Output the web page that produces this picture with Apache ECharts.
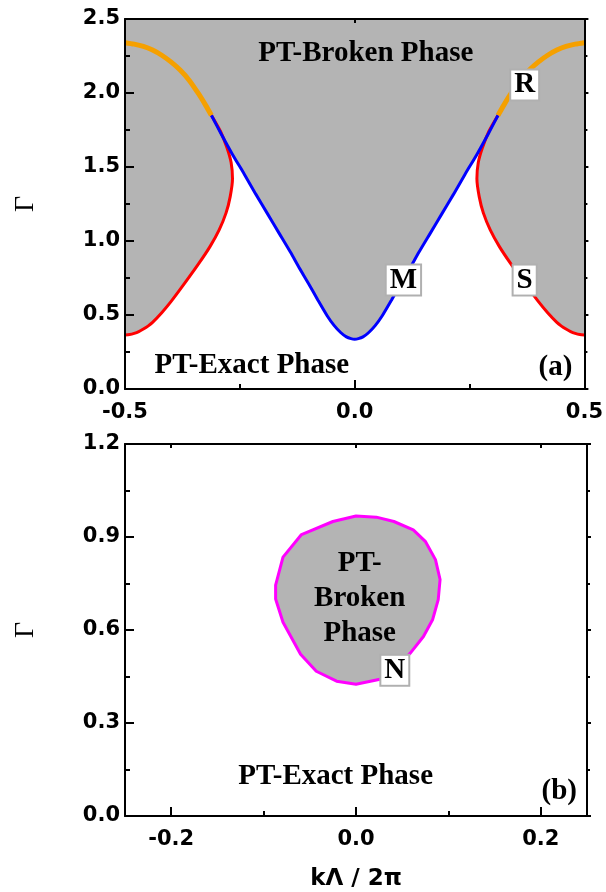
<!DOCTYPE html>
<html><head><meta charset="utf-8">
<script src="https://cdn.jsdelivr.net/npm/echarts@6/dist/echarts.min.js"></script>
<style>html,body{margin:0;padding:0;background:#fff}#c{width:606px;height:892px}</style>
</head><body><div id="c"></div>
<script>
// ---------- Panel (a): phase boundaries, [kΛ/2π, Γ] ----------
const orangeLeft = [[-0.5,2.34],[-0.48,2.33],[-0.46,2.315],[-0.44,2.29],[-0.42,2.255],[-0.40,2.21],[-0.38,2.155],[-0.36,2.085],[-0.34,1.995],[-0.325,1.92],[-0.312,1.85]];
const orangeRight = [[0.312,1.85],[0.325,1.92],[0.34,1.995],[0.36,2.085],[0.38,2.155],[0.40,2.21],[0.42,2.255],[0.44,2.29],[0.46,2.315],[0.48,2.33],[0.5,2.34]];
const redLeft = [[-0.5,0.365],[-0.49,0.368],[-0.48,0.376],[-0.47,0.388],[-0.46,0.405],[-0.45,0.425],[-0.44,0.45],[-0.42,0.515],[-0.40,0.59],[-0.37,0.715],[-0.34,0.845],[-0.315,0.962],[-0.295,1.075],[-0.28,1.19],[-0.271,1.30],[-0.266,1.42],[-0.269,1.53],[-0.278,1.63],[-0.292,1.74],[-0.312,1.85]];
const redRight = [[0.312,1.85],[0.292,1.74],[0.278,1.63],[0.269,1.53],[0.266,1.42],[0.271,1.30],[0.28,1.19],[0.295,1.075],[0.315,0.962],[0.34,0.845],[0.37,0.715],[0.40,0.59],[0.42,0.515],[0.44,0.45],[0.45,0.425],[0.46,0.405],[0.47,0.388],[0.48,0.376],[0.49,0.368],[0.5,0.365]];
const blueCurve = [[-0.312,1.85],[-0.29,1.72],[-0.266,1.585],[-0.24,1.45],[-0.215,1.315],[-0.19,1.185],[-0.165,1.055],[-0.14,0.925],[-0.12,0.815],[-0.10,0.71],[-0.08,0.60],[-0.06,0.495],[-0.045,0.43],[-0.03,0.38],[-0.018,0.352],[-0.008,0.34],[0,0.336],
  [0.008,0.34],[0.018,0.352],[0.03,0.38],[0.045,0.43],[0.06,0.495],[0.08,0.60],[0.10,0.71],[0.12,0.815],[0.14,0.925],[0.165,1.055],[0.19,1.185],[0.215,1.315],[0.24,1.45],[0.266,1.585],[0.29,1.72],[0.312,1.85]];
const exactBaseA = [[0.5,0],[-0.5,0]];

// ---------- Panel (b): closed boundary of the broken island ----------
const magentaLoop = [[0.0,0.968],[0.022,0.964],[0.041,0.95],[0.062,0.923],[0.075,0.886],[0.086,0.827],[0.091,0.763],[0.089,0.698],[0.083,0.634],[0.073,0.579],[0.059,0.526],[0.044,0.483],[0.026,0.441],[0.0,0.425],[-0.021,0.435],[-0.043,0.467],[-0.06,0.522],[-0.079,0.625],[-0.087,0.70],[-0.087,0.745],[-0.079,0.835],[-0.059,0.908],[-0.025,0.95],[0.0,0.968]];

// ---------- ticks ----------
const kTicksB = [-0.2, 0.0, 0.2];
const kMinorTicksB = [-0.1, 0.1];

// ---------- annotations [text, k, Γ] ----------
const phaseLabelsA = [['PT-Broken Phase', 0.024, 2.265], ['PT-Exact Phase', -0.224, 0.158], ['(a)', 0.437, 0.145]];
const pointTagsA = [['R', 0.37, 2.054], ['M', 0.106, 0.736], ['S', 0.37, 0.736]];
const phaseLabelsB = [['PT-\nBroken\nPhase', 0.004, 0.70], ['PT-Exact Phase', -0.022, 0.128], ['(b)', 0.22, 0.08]];
const pointTagsB = [['N', 0.042, 0.47]];

const chart = echarts.init(document.getElementById('c'), null, {renderer: 'canvas'});
const tickFont = {fontFamily: 'DejaVu Sans', fontWeight: 'bold', fontSize: 21, color: '#000'};
const serifFont = 'bold 29px "Liberation Serif"';
const lineBlack = {color: '#000', width: 2};
const fmt = v => Number(v).toFixed(1);

function mainX(grid, min, max, interval, extra) {
  return Object.assign({
    type: 'value', gridIndex: grid, min, max, interval, position: 'bottom', z: 10,
    axisLine: {show: true, onZero: false, lineStyle: lineBlack},
    axisTick: {show: true, inside: true, length: 9, lineStyle: lineBlack},
    minorTick: {show: true, splitNumber: 2, length: 5, lineStyle: lineBlack},
    splitLine: {show: false}, minorSplitLine: {show: false},
    axisLabel: Object.assign({margin: 13, formatter: fmt}, tickFont)
  }, extra || {});
}
function oppX(grid, min, max, interval, extra) {
  return Object.assign({
    type: 'value', gridIndex: grid, min, max, interval, position: 'top', z: 10,
    axisLine: {show: true, onZero: false, lineStyle: lineBlack},
    axisTick: {show: true, inside: true, length: 4, lineStyle: lineBlack},
    minorTick: {show: false}, splitLine: {show: false},
    axisLabel: {show: false}
  }, extra || {});
}
function mainY(grid, min, max, interval) {
  return {
    type: 'value', gridIndex: grid, min, max, interval, position: 'left', z: 10,
    name: 'Γ', nameLocation: 'middle', nameGap: 85, nameRotate: 90,
    nameTextStyle: {fontFamily: 'Liberation Serif', fontSize: 28, color: '#000'},
    axisLine: {show: true, onZero: false, lineStyle: lineBlack},
    axisTick: {show: true, inside: true, length: 9, lineStyle: lineBlack},
    minorTick: {show: true, splitNumber: 2, length: 5, lineStyle: lineBlack},
    splitLine: {show: false}, minorSplitLine: {show: false},
    axisLabel: Object.assign({margin: 5, formatter: fmt}, tickFont)
  };
}
function oppY(grid, min, max, interval) {
  return {
    type: 'value', gridIndex: grid, min, max, interval, position: 'right', z: 10,
    axisLine: {show: true, onZero: false, lineStyle: lineBlack},
    axisTick: {show: true, inside: false, length: 4, lineStyle: lineBlack},
    minorTick: {show: true, splitNumber: 2, length: 3, lineStyle: lineBlack},
    splitLine: {show: false}, axisLabel: {show: false}
  };
}

function polygonSeries(xi, yi, pts, style, z) {
  return {
    type: 'custom', xAxisIndex: xi, yAxisIndex: yi, data: [[0, 0]], silent: true, z: z,
    renderItem: (p, api) => ({type: 'polygon', shape: {points: pts.map(q => api.coord(q)), smooth: style.smooth || 0}, style: style})
  };
}
function curve(xi, yi, data, color, width) {
  return {type: 'line', xAxisIndex: xi, yAxisIndex: yi, data: data, showSymbol: false, symbol: 'none',
    smooth: 0.25, silent: true, z: 3, lineStyle: {color: color, width: width}};
}
function textSeries(xi, yi, items, boxed) {
  return {
    type: 'custom', xAxisIndex: xi, yAxisIndex: yi, silent: true, z: 6,
    data: items.map(t => [t[1], t[2]]),
    renderItem: (p, api) => {
      const t = items[p.dataIndex];
      const c = api.coord([t[1], t[2]]);
      const style = {text: t[0], font: serifFont, fill: '#000', align: 'center', verticalAlign: 'middle', lineHeight: 35};
      if (boxed) Object.assign(style, {backgroundColor: '#fff', borderColor: '#b0b0b0', borderWidth: 2, padding: [2, 3, 0, 3], lineHeight: 27});
      return {type: 'text', x: c[0], y: c[1], style: style};
    }
  };
}

const exactRegionA = [].concat(redLeft, blueCurve, redRight, exactBaseA);

chart.setOption({
  animation: false,
  backgroundColor: '#fff',
  grid: [
    {left: 125, right: 19, top: 19, height: 370, show: true, backgroundColor: '#b4b4b4', borderWidth: 0},
    {left: 125, right: 19, top: 444, height: 373, show: true, backgroundColor: '#fff', borderWidth: 0}
  ],
  xAxis: [
    mainX(0, -0.5, 0.5, 0.5),
    oppX(0, -0.5, 0.5, 0.5),
    mainX(1, -0.25, 0.25, 0.05, {
      minorTick: {show: false},
      axisTick: {show: true, inside: true, length: 9, lineStyle: lineBlack, customValues: kTicksB},
      axisLabel: Object.assign({margin: 13, formatter: fmt, customValues: kTicksB}, tickFont),
      name: 'kΛ / 2π', nameLocation: 'middle', nameGap: 52,
      nameTextStyle: {fontFamily: 'DejaVu Sans', fontWeight: 'bold', fontSize: 23, color: '#000'}
    }),
    mainX(1, -0.25, 0.25, 0.05, {
      axisLine: {show: false}, minorTick: {show: false},
      axisTick: {show: true, inside: true, length: 5, lineStyle: lineBlack, customValues: kMinorTicksB},
      axisLabel: {show: false}
    }),
    oppX(1, -0.25, 0.25, 0.05, {
      axisTick: {show: true, inside: true, length: 4, lineStyle: lineBlack, customValues: kTicksB}
    })
  ],
  yAxis: [
    mainY(0, 0, 2.5, 0.5),
    oppY(0, 0, 2.5, 0.5),
    mainY(1, 0, 1.2, 0.3),
    oppY(1, 0, 1.2, 0.3)
  ],
  series: [
    polygonSeries(0, 0, exactRegionA, {fill: '#fff'}, 1),
    curve(0, 0, redLeft, '#ff0000', 3),
    curve(0, 0, redRight, '#ff0000', 3),
    curve(0, 0, blueCurve, '#0000ff', 3),
    curve(0, 0, orangeLeft, '#f5a000', 5),
    curve(0, 0, orangeRight, '#f5a000', 5),
    textSeries(0, 0, phaseLabelsA, false),
    textSeries(0, 0, pointTagsA, true),
    polygonSeries(2, 2, magentaLoop, {fill: '#b4b4b4', stroke: '#ff00ff', lineWidth: 3, lineJoin: 'round'}, 2),
    textSeries(2, 2, phaseLabelsB, false),
    textSeries(2, 2, pointTagsB, true)
  ]
});
</script></body></html>
